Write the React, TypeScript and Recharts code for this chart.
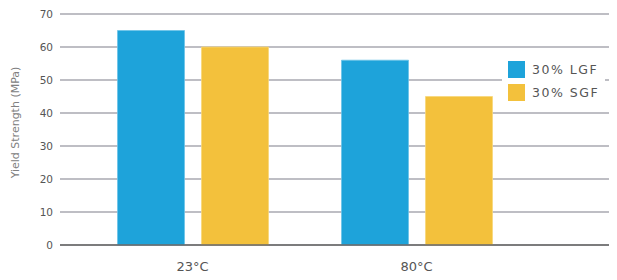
import React from "react";
import { BarChart, Bar, XAxis, YAxis, CartesianGrid, Legend, Label } from "recharts";

const categories = ["23°C", "80°C"];
const lgfValues = [65, 56];
const sgfValues = [60, 45];
const yTicks = [0, 10, 20, 30, 40, 50, 60, 70];
const seriesNames = ["30% LGF", "30% SGF"];
const seriesColors = ["#1EA3DA", "#F3C13C"];

const data = categories.map((c, i) => ({ name: c, lgf: lgfValues[i], sgf: sgfValues[i] }));

const FONT = "'DejaVu Sans', Verdana, sans-serif";

function LegendBox() {
  return (
    <div style={{ background: "#fff", width: 103, height: 56, boxSizing: "border-box", paddingTop: 9, paddingLeft: 6 }}>
      {seriesNames.map((n, i) => (
        <div key={n} style={{ display: "flex", alignItems: "center", height: 17, marginBottom: 6 }}>
          <div style={{ width: 17, height: 17, background: seriesColors[i] }} />
          <span style={{ marginLeft: 7, fontFamily: FONT, fontSize: 12.5, letterSpacing: 1.5, color: "#555", lineHeight: "17px", whiteSpace: "nowrap" }}>{n}</span>
        </div>
      ))}
    </div>
  );
}

function YLabel(props: any) {
  const vb = props.viewBox || { x: 0, y: 0, width: 0, height: 0 };
  const x = vb.x + 7;
  const y = vb.y + vb.height / 2 - 7;
  return (
    <text x={x} y={y} transform={`rotate(-90, ${x}, ${y})`} textAnchor="middle" dominantBaseline="central" fontFamily={FONT} fontSize={11} fill="#808080">
      Yield Strength (MPa)
    </text>
  );
}

export default function App() {
  return (
    <div style={{ width: 609, height: 272, position: "relative" }}>
      <BarChart width={609} height={272} data={data} margin={{ top: 6, right: 0, bottom: 0, left: 0 }} barSize={67} barGap={17}>
        <CartesianGrid vertical={false} stroke="#a9a9b0" strokeWidth={1.3} />
        <XAxis
          dataKey="name"
          height={35}
          padding={{ left: 20.5, right: 88.5 }}
          tickLine={false}
          tickSize={0}
          tickMargin={17}
          axisLine={{ stroke: "#666", strokeWidth: 1.5 }}
          tick={{ fontFamily: FONT, fontSize: 13, fill: "#555" }}
        />
        <YAxis
          width={52}
          domain={[0, 70]}
          ticks={yTicks}
          axisLine={false}
          tickLine={false}
          tickSize={0}
          tickMargin={7}
          tick={{ fontFamily: FONT, fontSize: 10.5, fill: "#555" }}
        >
          <Label content={YLabel} />
        </YAxis>
        <Legend
          layout="vertical"
          align="center"
          verticalAlign="middle"
          content={() => <LegendBox />}
          wrapperStyle={{ left: 494, top: 44, width: 103, height: 56 }}
        />
        <Bar dataKey="lgf" name={seriesNames[0]} fill={seriesColors[0]} stroke="#6cc3e8" strokeWidth={0.8} isAnimationActive={false} />
        <Bar dataKey="sgf" name={seriesNames[1]} fill={seriesColors[1]} stroke="#f7d77a" strokeWidth={0.8} isAnimationActive={false} />
      </BarChart>
    </div>
  );
}
